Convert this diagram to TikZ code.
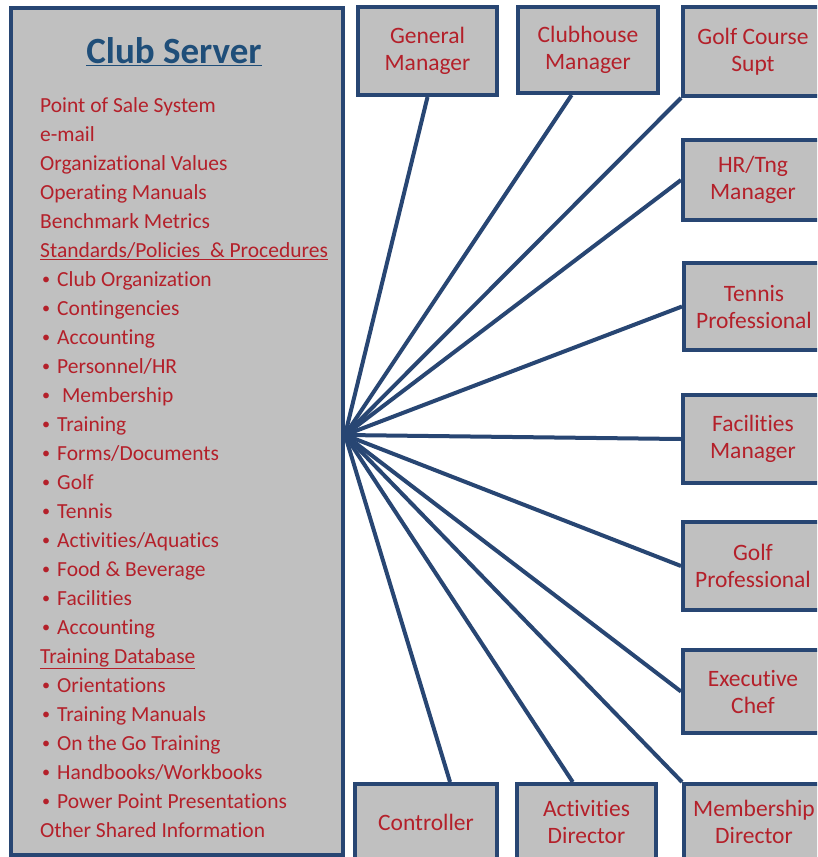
\documentclass[tikz,border=0pt]{standalone}
\usepackage{fontspec}
\setmainfont{Carlito}[Ligatures={NoCommon}]
\usetikzlibrary{positioning}

\definecolor{navy}{RGB}{40,70,115}
\definecolor{titleblue}{RGB}{31,78,121}
\definecolor{txtred}{RGB}{180,32,42}
\definecolor{boxgray}{RGB}{192,192,192}

\newcommand{\bul}{\hspace{2pt}\raisebox{1.5pt}{\scalebox{0.75}{•}}\hspace{7pt}}

\begin{document}
\begin{tikzpicture}[x=1pt, y=-1pt,
    staff/.style={draw=navy, line width=4pt, fill=boxgray, text=txtred,
        font=\fontsize{23.5}{27}\selectfont, align=center, inner sep=0pt,
        minimum width=140pt, minimum height=88pt},
    link/.style={draw=navy, line width=4pt},
    item/.style={anchor=base west, inner sep=0pt, text=txtred,
        font=\fontsize{21.5}{26}\selectfont}]

    \useasboundingbox (0,0) rectangle (817,857);
    \clip (0,0) rectangle (817,857);
    \fill[white] (0,0) rectangle (817,857);

    % punto de union
    \coordinate (hub) at (345,435);

    % cajas del personal
    \node[staff, minimum width=139pt] (gm) at (427.5,51) {General\\Manager};
    \node[staff, minimum height=86pt] (ch) at (588,50) {Clubhouse\\Manager};
    \node[staff, minimum height=89pt] (gcs) at (753,51.5) {Golf Course\\Supt};
    \node[staff, minimum height=80pt] (hr) at (753,180) {HR/Tng\\Manager};
    \node[staff, minimum height=87pt] (tp) at (754,306.5) {Tennis\\Professional};
    \node[staff] (fm) at (753,439) {Facilities\\Manager};
    \node[staff] (gp) at (753,566) {Golf\\Professional};
    \node[staff, minimum height=83pt] (ec) at (753,691.5) {Executive\\Chef};
    \node[staff, minimum width=142pt, minimum height=76pt] (ctl) at (426,822) {Controller};
    \node[staff, minimum width=139pt, minimum height=76pt] (ad) at (586.5,822) {Activities\\Director};
    \node[staff, minimum height=76pt] (md) at (754,822) {Membership\\Director};

    % lineas
    \draw[link] (hub) -- (gm.south);
    \draw[link] (hub) -- (ch.-110);
    \draw[link] (hub) -- (gcs.south west);
    \draw[link] (hub) -- (hr.west);
    \draw[link] (hub) -- (tp.west);
    \draw[link] (hub) -- (fm.west);
    \draw[link] (hub) -- (gp.west);
    \draw[link] (hub) -- (ec.west);
    \draw[link] (hub) -- (md.north west);
    \draw[link] (hub) -- (ad.109);
    \draw[link] (hub) -- (ctl.59);

    % servidor
    \node[draw=navy, line width=4pt, fill=boxgray, minimum width=332pt,
        minimum height=847pt, inner sep=0pt] (server) at (177,431.5) {};
    \node[text=titleblue, font=\fontsize{37}{42}\selectfont\bfseries] (title)
        at (174,52) {\underline{Club Server}};

    \foreach \txt [count=\i] in {Point of Sale System, e-mail,
        Organizational Values, Operating Manuals, Benchmark Metrics,
        {\underline{Standards/Policies \ \& Procedures}},
        \bul Club Organization, \bul Contingencies, \bul Accounting,
        \bul Personnel/HR, {\bul\ Membership}, \bul Training,
        \bul Forms/Documents, \bul Golf, \bul Tennis,
        \bul Activities/Aquatics, \bul Food \& Beverage, \bul Facilities,
        \bul Accounting, {\underline{Training Database}}, \bul Orientations,
        \bul Training Manuals, \bul On the Go Training,
        \bul Handbooks/Workbooks, \bul Power Point Presentations,
        Other Shared Information}
        \node[item] (item\i) at (40,{112+29*(\i-1)}) {\txt};

\end{tikzpicture}
\end{document}
